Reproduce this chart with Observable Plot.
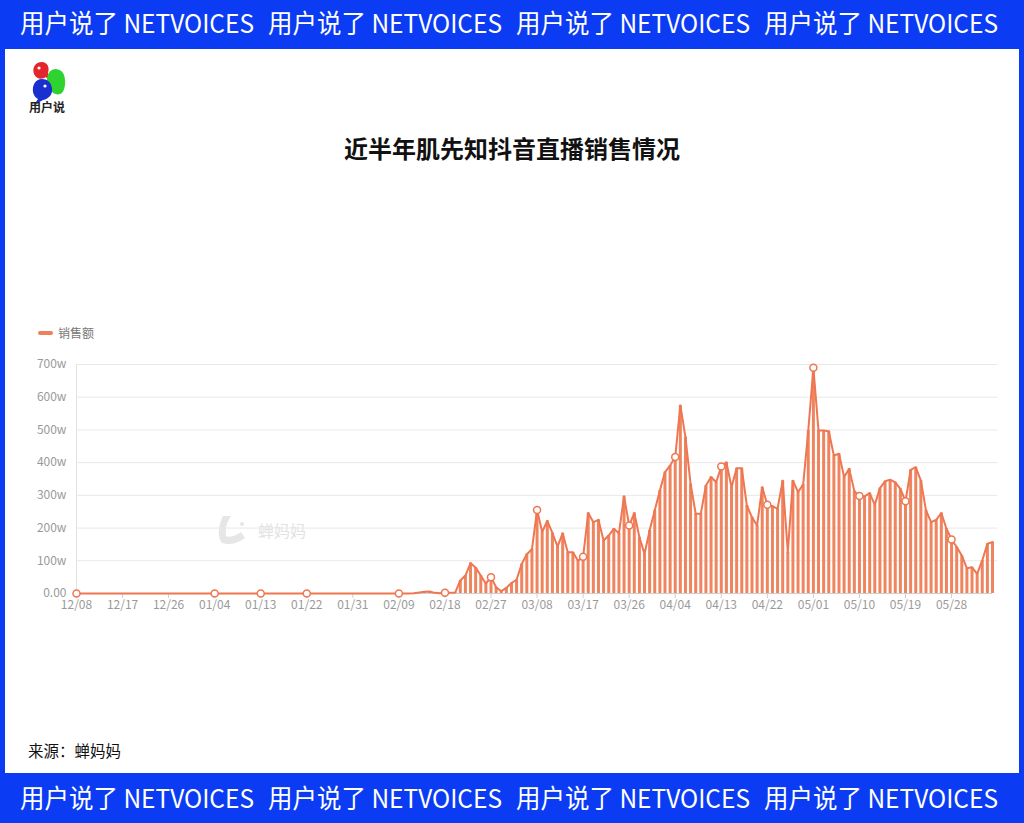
<!DOCTYPE html>
<html>
<head>
<meta charset="utf-8">
<script src="https://cdn.jsdelivr.net/npm/d3@7"></script>
<script src="https://cdn.jsdelivr.net/npm/@observablehq/plot@0.6"></script>
<style>
  html, body { margin: 0; padding: 0; }
  body { width: 1024px; height: 823px; background: #0b3cf4; position: relative; overflow: hidden;
         font-family: "Noto Sans CJK SC", "Noto Sans", sans-serif; }
  .abs { position: absolute; }
  #panel { left: 5px; top: 49px; width: 1014px; height: 724px; background: #fff; }
  #title { left: 0; width: 1024px; top: 131px; text-align: center; font-size: 24px; font-weight: 700; color: #111; line-height: 34px; }
  #legend { left: 38px; top: 324px; font-size: 12px; color: #777; display: flex; align-items: center; }
  #legend .sw { width: 15px; height: 4px; border-radius: 2px; background: #f07f5c; margin-right: 5px; }
  #source { left: 28px; top: 739px; font-size: 15.5px; color: #111; line-height: 22px; }
  #chart { left: 0; top: 350px; }
</style>
</head>
<body>
<svg class="abs" style="left:0;top:0" width="1024" height="49" id="header"></svg>
<div class="abs" id="panel"></div>
<svg class="abs" style="left:0;top:774px" width="1024" height="49" id="footer"></svg>

<svg class="abs" style="left:25px;top:58px" width="50" height="60" id="logo">
  <path d="M17 4 C10 4 7 10 9 16 C11 21 17 22 21 19 L24 23 L23 15 C25 9 22 4 17 4 Z" fill="#e3262b"/>
  <circle cx="14" cy="10" r="1.6" fill="#fff"/>
  <path d="M30 11 C22 12 20 22 24 30 C27 36 33 38 37 35 C41 30 41 20 38 15 C36 12 33 11 30 11 Z" fill="#2fd32f"/>
  <path d="M17 21 C10 21 7 28 8 34 C9 38 11 40 13 41 L9 47 L18 42 C24 41 28 36 27 30 C26 24 22 21 17 21 Z" fill="#1a2fd0"/>
  <circle cx="20" cy="28" r="1.6" fill="#fff"/>
  <text x="4" y="54" font-size="12" font-weight="700" fill="#222" font-family="Noto Sans CJK SC">用户说</text>
</svg>

<div class="abs" id="title">近半年肌先知抖音直播销售情况</div>
<div class="abs" id="legend"><span class="sw"></span><span>销售额</span></div>

<svg class="abs" style="left:215px;top:510px" width="110" height="40" id="watermark">
  <path d="M8 6 C4 14 2 24 6 32 C12 36 22 34 30 28 L26 22 C20 26 14 28 11 26 C10 18 12 12 16 6 Z" fill="#e6e6e6"/>
  <circle cx="27" cy="14" r="2" fill="#e6e6e6"/>
  <text x="43" y="27" font-size="16" fill="#e2e2e2" font-family="Noto Sans CJK SC">蝉妈妈</text>
</svg>

<div class="abs" id="chart"></div>
<div class="abs" id="source">来源：蝉妈妈</div>

<script>
// ---------------- data ----------------
const startDate = "2020-12-08";
// daily sales, unit: w (10k), 12/08 -> 06/05
const sales = [
  0,0,0,0,0,0,0,0,0,0, 0,0,0,0,0,0,0,0,0,0,
  0,0,0,0,0,0,0,0,0,0, 0,0,0,0,0,0,0,0,0,0,
  0,0,0,0,0,0,0,0,0,0, 0,0,0,0,0,0,0,0,0,0,
  0,0,0,0,0,0,1,3,5,6, 2,1,2,2,3,40,55,93,79,55,
  30,50,19,7,17,32,42,90,120,135, 255,188,222,185,143,184,126,126,100,112,
  246,218,225,162,177,198,184,297,208,246, 172,121,193,254,315,371,391,417,575,478,
  335,244,244,330,356,340,388,401,325,383, 383,269,233,208,325,271,267,259,345,126,
  345,310,333,498,690,498,498,496,422,427, 356,381,313,298,297,307,271,322,343,348,
  340,320,282,378,386,345,254,218,225,246, 198,165,142,116,77,80,60,101,152,157
];
const markerDays = [0, 27, 36, 45, 63, 72, 81, 90, 99, 108, 117, 126, 135, 144, 153, 162, 171];
const xTickLabels = ["12/08","12/17","12/26","01/04","01/13","01/22","01/31","02/09","02/18",
  "02/27","03/08","03/17","03/26","04/04","04/13","04/22","05/01","05/10","05/19","05/28"];
const yTicks = [0, 100, 200, 300, 400, 500, 600, 700];
const yTickLabels = ["0.00", "100w", "200w", "300w", "400w", "500w", "600w", "700w"];
const seriesName = "销售额";
const bannerText = "用户说了 NETVOICES";

// ---------------- build ----------------
const start = new Date(startDate + "T00:00:00Z");
const data = sales.map((v, i) => ({ date: d3.utcDay.offset(start, i), value: v }));
const markers = markerDays.map(i => data[i]);
const tickDates = xTickLabels.map(s => {
  const [m, d] = s.split("/").map(Number);
  return new Date(Date.UTC(m === 12 ? 2020 : 2021, m - 1, d));
});
const fmtMD = d3.utcFormat("%m/%d");

const lineColor = "#ee7651";
const barColor = "#f0845f";

const chart = Plot.plot({
  width: 1024,
  height: 270,
  marginLeft: 76,
  marginRight: 32,
  marginTop: 14,
  marginBottom: 27,
  style: { fontFamily: "'Noto Sans CJK SC', 'Noto Sans', sans-serif", fontSize: "12px", color: "#9a9a9a", background: "transparent", overflow: "visible" },
  x: { type: "utc", domain: [data[0].date, data[data.length - 1].date] },
  y: { domain: [0, 700] },
  marks: [
    Plot.gridY(yTicks.slice(1), { stroke: "#e8e8e8", strokeOpacity: 1, x1: data[0].date, x2: d3.utcDay.offset(data[data.length - 1].date, 1) }),
    Plot.ruleX([data[0].date], { y1: 0, y2: 700, stroke: "#e3e3e3" }),
    Plot.ruleY([0], { stroke: "#cfcfcf" }),
    Plot.axisY({ ticks: yTicks, tickSize: 0, tickPadding: 10, label: null, tickFormat: d => yTickLabels[yTicks.indexOf(d)] }),
    Plot.axisX({ ticks: tickDates, tickSize: 5, tickPadding: 2, label: null, stroke: "#cfcfcf", tickFormat: d => xTickLabels[tickDates.findIndex(t => +t === +d)] ?? fmtMD(d) }),
    Plot.ruleX(data, { x: "date", y1: 0, y2: "value", stroke: barColor, strokeWidth: 3 }),
    Plot.line(data, { x: "date", y: "value", stroke: lineColor, strokeWidth: 2, strokeLinejoin: "round" }),
    Plot.dot(markers, { x: "date", y: "value", r: 3.5, fill: "#fff", stroke: lineColor, strokeWidth: 1.5 })
  ]
});
document.getElementById("chart").appendChild(chart);
document.querySelector("#legend span:last-child").textContent = seriesName;

// banners
function banner(id, baseline) {
  const svg = d3.select("#" + id);
  [20, 268, 516, 764].forEach(x => {
    svg.append("text")
      .attr("x", x).attr("y", baseline)
      .attr("font-size", 26)
      .attr("fill", "#fff")
      .attr("font-family", "'Noto Sans CJK SC', sans-serif")
      .attr("textLength", 234)
      .attr("lengthAdjust", "spacingAndGlyphs")
      .text(bannerText);
  });
}
banner("header", 33);
banner("footer", 34);
</script>
</body>
</html>
